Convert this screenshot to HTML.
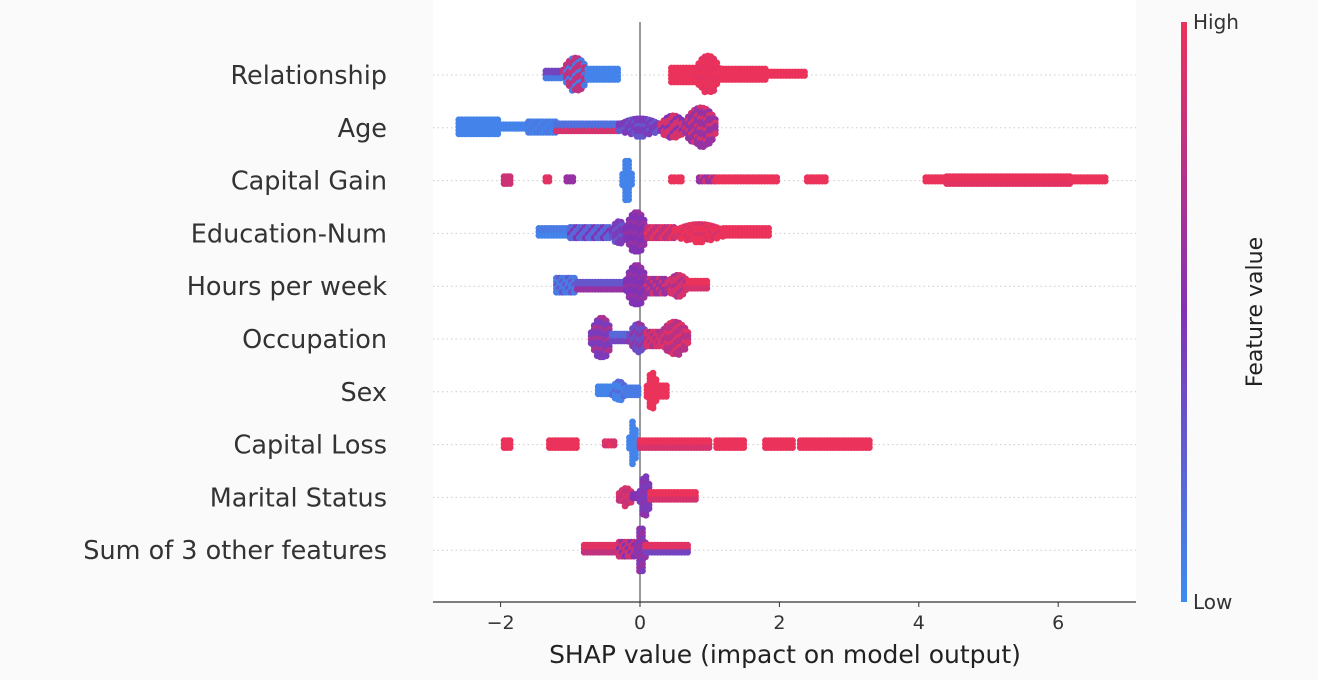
<!DOCTYPE html>
<html><head><meta charset="utf-8"><style>
body{margin:0;background:#fafafa;}
svg{display:block;font-family:"DejaVu Sans","Liberation Sans",sans-serif;}
</style></head><body>
<svg id="chart" width="1318" height="680">
<defs><linearGradient id="cb" x1="0" y1="1" x2="0" y2="0">
<stop offset="0" stop-color="rgb(60,140,240)"/><stop offset="0.5" stop-color="rgb(130,50,180)"/><stop offset="1" stop-color="rgb(235,50,90)"/></linearGradient></defs>
<rect x="433" y="0" width="703" height="602" fill="#fff"/>
<g id="grid"></g>
<g id="labels"></g>
<line x1="640" y1="22" x2="640" y2="602" stroke="#999" stroke-width="2"/>
<g id="dots"></g>
<line x1="433" y1="602" x2="1136" y2="602" stroke="#333" stroke-width="1.3"/>
<g id="ticks"></g>
<text x="785" y="663" font-size="25" text-anchor="middle" fill="#222">SHAP value (impact on model output)</text>
<rect x="1181" y="22" width="6" height="580" fill="url(#cb)"/>
<text x="1193" y="29" font-size="20" fill="#333">High</text>
<text x="1193" y="609" font-size="20" fill="#333">Low</text>
<text transform="translate(1262,312) rotate(-90)" font-size="22" text-anchor="middle" fill="#222">Feature value</text>
</svg>
<script>
const features=["Relationship","Age","Capital Gain","Education-Num","Hours per week","Occupation","Sex","Capital Loss","Marital Status","Sum of 3 other features"];
const xTicks=[-2,0,2,4,6];
// segments: [shapFrom, shapTo, swarmHalfHeight(px), featureValue 0..1, secondaryFeatureValue]
const segRelationship=[[-1.35,-1.1,4,0.4,0.1],[-1.1,-0.75,17,0.8,0.1],[-0.75,-0.3,6,0.05,0.05],[0.45,0.8,7,1,1],[0.8,1.15,19,1,0.95],[1.15,1.8,6,1,1],[1.8,2.4,3,1,1]];
const segAge=[[-2.6,-2.0,8,0.05,0.05],[-2.0,-1.6,3,0.05,0.05],[-1.6,-1.2,6,0.1,0.05],[-1.2,-0.3,4,0.15,0.9],[-0.3,0.3,9,0.45,0.3],[0.3,0.65,12,0.9,0.5],[0.65,1.1,20,0.6,0.9]];
const segCapGain=[[-1.95,-1.85,4,0.85,0.85],[-1.35,-1.3,3,0.95,0.95],[-1.05,-0.95,3,0.6,0.6],[-0.25,-0.12,21,0.05,0.05],[0.45,0.5,3,1,1],[0.55,0.6,3,1,1],[0.85,1.1,3,0.6,0.9],[1.1,2.0,3,1,1],[2.4,2.7,3,1,1],[4.1,4.4,3,1,1],[4.4,6.2,4,1,0.95],[6.2,6.7,3,1,1]];
const segEdu=[[-1.45,-1.0,5,0.1,0.05],[-1.0,-0.4,6,0.2,0.5],[-0.4,-0.2,12,0.45,0.3],[-0.2,0.1,21,0.5,0.6],[0.1,0.5,6,0.8,1],[0.5,1.2,9,1,0.9],[1.2,1.85,5,1,1]];
const segHours=[[-1.2,-0.9,8,0.1,0.3],[-0.9,-0.2,4,0.3,0.6],[-0.2,0.1,21,0.5,0.6],[0.1,0.4,7,0.6,0.9],[0.4,0.7,11,0.9,0.7],[0.7,1.0,5,1,0.9]];
const segOcc=[[-0.7,-0.4,21,0.45,0.7],[-0.4,-0.15,5,0.2,0.4],[-0.15,0.1,15,0.35,0.6],[0.1,0.3,7,0.9,0.7],[0.3,0.7,17,0.75,0.95]];
const segSex=[[-0.6,-0.4,5,0.05,0.05],[-0.4,-0.2,10,0.05,0.2],[-0.2,0.0,4,0.1,0.1],[0.1,0.25,19,1,1],[0.25,0.4,6,1,1]];
const segCapLoss=[[-1.95,-1.85,4,1,1],[-1.3,-0.9,4,1,1],[-0.5,-0.35,3,0.9,1],[-0.15,-0.05,23,0.05,0.05],[0.0,1.0,4,1,0.9],[1.1,1.5,4,1,1],[1.8,2.2,4,1,1],[2.3,3.3,4,1,1]];
const segMarital=[[-0.3,-0.1,9,0.9,0.8],[-0.1,0.1,3,0.5,0.5],[0.0,0.15,21,0.45,0.55],[0.15,0.8,5,1,0.9]];
const segSum=[[-0.8,-0.3,5,0.95,0.8],[-0.3,-0.05,8,0.85,0.5],[-0.05,0.08,23,0.6,0.45],[0.08,0.7,5,0.95,0.4]];
const allSegs=[segRelationship,segAge,segCapGain,segEdu,segHours,segOcc,segSex,segCapLoss,segMarital,segSum];

const NS="http://www.w3.org/2000/svg";
const xS=v=>640+v*69.7;
const yS=i=>75+i*52.8;
function col(t){const a=[60,140,240],m=[130,50,180],b=[235,50,90];let c;
 if(t<0.5){const k=t/0.5;c=a.map((v,j)=>v+(m[j]-v)*k);}else{const k=(t-0.5)/0.5;c=m.map((v,j)=>v+(b[j]-v)*k);}
 return `rgb(${c.map(Math.round).join(',')})`;}
function mk(tag,attrs,parent){const e=document.createElementNS(NS,tag);for(const k in attrs)e.setAttribute(k,attrs[k]);parent.appendChild(e);return e;}
const grid=document.getElementById('grid'),labels=document.getElementById('labels'),dots=document.getElementById('dots'),ticks=document.getElementById('ticks');
features.forEach((f,i)=>{
 const l=mk('line',{x1:433,x2:1136,y1:yS(i),y2:yS(i),stroke:'#ccc','stroke-dasharray':'1.5,3','stroke-width':1},grid);
 
 
 const t=mk('text',{x:387,y:yS(i)+9,'font-size':25.5,'text-anchor':'end',fill:'#333'},labels);
 t.textContent=f;
 
 
 allSegs[i].forEach(s=>{
  const x0=xS(s[0]),x1=xS(s[1]),H=s[2];const c1=col(s[3]),c2=col(s[4]);
  const g=mk('g',{},dots);
  
  
  const w=Math.max(x1-x0,1);let n=0;
  for(let x=x0;x<=x1+0.01;x+=3){
   const p=Math.abs((x-x0)/w*2-1);
   const h=H>8?Math.max(4,H*(1-p*p*0.7)):H;
   for(let dy=-h;dy<=h+0.01;dy+=3.5){n++;
    mk('circle',{cx:x.toFixed(1),cy:(yS(i)+dy).toFixed(1),r:3.4,fill:(n%3===0?c2:c1)},g);}}
 });
});
xTicks.forEach(v=>{
 const l=mk('line',{x1:xS(v),x2:xS(v),y1:602,y2:607,stroke:'#333'},ticks);
 
 
 const t=mk('text',{x:xS(v),y:629,'font-size':19,'text-anchor':'middle',fill:'#333'},ticks);
 t.textContent=v<0?'\u2212'+Math.abs(v):String(v);
 
 
});
</script>
</body></html>
